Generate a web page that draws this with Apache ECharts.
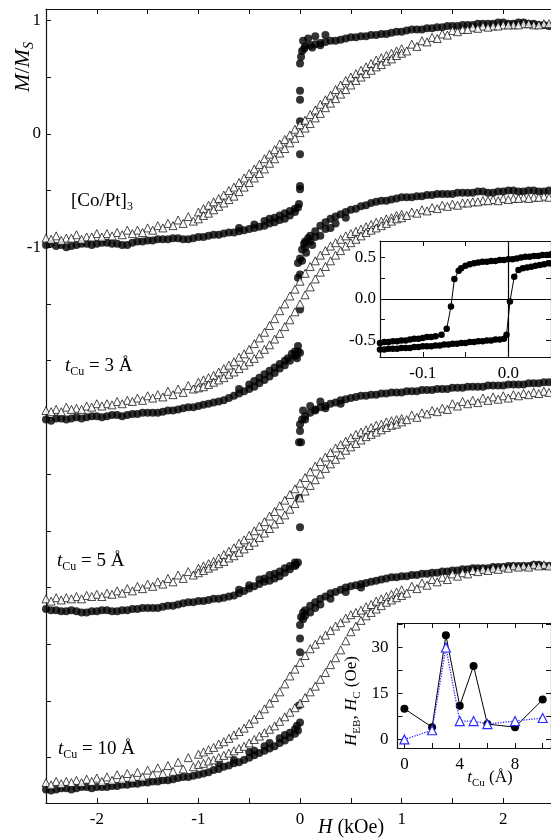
<!DOCTYPE html>
<html><head><meta charset="utf-8">
<script src="https://cdn.jsdelivr.net/npm/echarts@6/dist/echarts.min.js"></script>
<style>html,body{margin:0;padding:0;background:#fff}#c{width:551px;height:838px}</style>
</head><body><div id="c"></div>
<script>
// ---------- main panel field grids (kOe) ----------
const H_TRI_A = [-2.5,-2.4,-2.3,-2.2,-2.1,-2.0,-1.9,-1.8,-1.7,-1.6,-1.5,-1.4,-1.3,-1.2,-1.1,
  -1.0,-0.95,-0.9,-0.85,-0.8,-0.75,-0.7,-0.65,-0.6,-0.55,-0.5,-0.45,-0.4,-0.35,-0.3,-0.25,-0.2,-0.15,-0.1,-0.05,0,0.05,0.1,0.15,0.2,0.25,0.3,0.35,0.4,0.45,0.5,0.55,0.6,0.65,0.7,0.75,0.8,0.85,0.9,0.95,1.0,
  1.1,1.2,1.3,1.4,1.5,1.6,1.7,1.8,1.9,2.0,2.1,2.2,2.3,2.4,2.5];
const H_TRI_B = [-2.45,-2.35,-2.25,-2.15,-2.05,-1.95,-1.85,-1.75,-1.65,-1.55,-1.45,-1.35,-1.25,-1.15,-1.05,
  -1.0,-0.95,-0.9,-0.85,-0.8,-0.75,-0.7,-0.65,-0.6,-0.55,-0.5,-0.45,-0.4,-0.35,-0.3,-0.25,-0.2,-0.15,-0.1,-0.05,0,0.05,0.1,0.15,0.2,0.25,0.3,0.35,0.4,0.45,0.5,0.55,0.6,0.65,0.7,0.75,0.8,0.85,0.9,0.95,1.0,
  1.05,1.15,1.25,1.35,1.45,1.55,1.65,1.75,1.85,1.95,2.05,2.15,2.25,2.35,2.45];
const H_CIRC_NEG = [-2.5,-2.45,-2.4,-2.35,-2.3,-2.25,-2.2,-2.15,-2.1,-2.05,-2.0,-1.95,-1.9,-1.85,-1.8,-1.75,-1.7,-1.65,-1.6,-1.55,-1.5,-1.45,-1.4,-1.35,-1.3,-1.25,-1.2,-1.15,-1.1,-1.05,-1.0,-0.95,-0.9,-0.85,-0.8,-0.75,-0.7,-0.65,-0.6,-0.55,-0.5,-0.45,-0.4,-0.35,-0.3,-0.25,-0.2,-0.15,-0.1,-0.05];
const H_CIRC_POS = [0.05,0.1,0.15,0.2,0.25,0.3,0.35,0.4,0.45,0.5,0.55,0.6,0.65,0.7,0.75,0.8,0.85,0.9,0.95,1.0,1.05,1.1,1.15,1.2,1.25,1.3,1.35,1.4,1.45,1.5,1.55,1.6,1.65,1.7,1.75,1.8,1.85,1.9,1.95,2.0,2.05,2.1,2.15,2.2,2.25,2.3,2.35,2.4,2.45,2.5];

// ----- [Co/Pt]3 -----
const L1_TRI_A = [-0.92,-0.90,-0.92,-0.89,-0.91,-0.88,-0.88,-0.87,-0.85,-0.85,-0.83,-0.81,-0.79,-0.76,-0.73,
  -0.69,-0.66,-0.63,-0.60,-0.57,-0.54,-0.50,-0.47,-0.43,-0.39,-0.35,-0.31,-0.27,-0.22,-0.18,-0.14,-0.09,-0.05,-0.01,0.04,0.08,0.12,0.17,0.21,0.26,0.30,0.34,0.39,0.43,0.47,0.50,0.53,0.56,0.59,0.62,0.65,0.67,0.69,0.71,0.73,0.75,
  0.79,0.82,0.85,0.88,0.91,0.92,0.94,0.95,0.95,0.96,0.96,0.97,0.96,0.97,0.97];
const L1_TRI_B = [-0.93,-0.94,-0.92,-0.93,-0.91,-0.91,-0.90,-0.89,-0.88,-0.87,-0.85,-0.83,-0.81,-0.79,-0.77,
  -0.75,-0.72,-0.70,-0.67,-0.64,-0.61,-0.58,-0.55,-0.51,-0.47,-0.43,-0.39,-0.35,-0.31,-0.26,-0.22,-0.17,-0.13,-0.08,-0.04,0.01,0.05,0.09,0.14,0.18,0.23,0.27,0.31,0.35,0.39,0.43,0.47,0.50,0.53,0.56,0.59,0.61,0.64,0.66,0.69,0.71,
  0.73,0.77,0.81,0.84,0.87,0.90,0.92,0.93,0.94,0.95,0.96,0.96,0.97,0.96,0.97];
const L1_CIRC_NEG = [-0.98,-0.97,-0.99,-0.98,-1.00,-0.99,-0.98,-0.97,-0.97,-0.98,-0.97,-0.96,-0.96,-0.97,-0.97,-0.98,-0.98,-0.96,-0.95,-0.95,
  -0.94,-0.94,-0.93,-0.93,-0.93,-0.92,-0.92,-0.93,-0.93,-0.92,-0.91,-0.91,-0.90,-0.89,-0.89,-0.88,-0.87,-0.87,-0.86,-0.85,
  -0.84,-0.83,-0.82,-0.81,-0.79,-0.78,-0.76,-0.75,-0.72,-0.69];
const L1_CIRC_POS = [0.77,0.78,0.79,0.80,0.81,0.82,0.82,0.83,0.84,0.85,0.85,0.86,0.86,0.87,0.87,0.88,0.88,0.89,0.90,0.90,
  0.91,0.92,0.92,0.92,0.93,0.93,0.94,0.94,0.95,0.95,0.95,0.96,0.96,0.96,0.97,0.97,0.97,0.97,0.98,0.98,
  0.97,0.97,0.98,0.98,0.97,0.97,0.96,0.96,0.95,0.95];
const L1_CIRC_EXTRA = [[-0.6,-0.83],[-0.45,-0.80],[-0.35,-0.77],[-0.25,-0.74],[-0.3,-0.75],[-0.2,-0.72],[-0.15,-0.70],[-0.1,-0.68],[-0.05,-0.66],[-0.02,-0.65],[-0.01,-0.62],[0,-0.46],[0,-0.49],[0,-0.18],[0,0.11],[0,0.30],[0,0.38],[0.0,0.62],[0.01,0.68],[0.02,0.73],[0.03,0.82],[0.04,0.75],[0.08,0.84],[0.15,0.86],[0.25,0.87],[0.12,0.76],[0.2,0.78]];

// ----- t_Cu = 3 A -----
const L2_TRI_A = [-2.44,-2.43,-2.41,-2.42,-2.40,-2.38,-2.38,-2.36,-2.35,-2.33,-2.31,-2.30,-2.27,-2.25,-2.22,
  -2.19,-2.17,-2.15,-2.13,-2.10,-2.07,-2.04,-2.01,-1.97,-1.94,-1.90,-1.85,-1.80,-1.75,-1.69,-1.63,-1.56,-1.50,-1.43,-1.37,-1.30,-1.23,-1.17,-1.12,-1.07,-1.03,-0.99,-0.96,-0.93,-0.90,-0.88,-0.86,-0.84,-0.82,-0.80,-0.78,-0.77,-0.75,-0.74,-0.72,-0.71,
  -0.69,-0.67,-0.65,-0.63,-0.62,-0.61,-0.60,-0.59,-0.58,-0.57,-0.57,-0.56,-0.56,-0.55,-0.55];
const L2_TRI_B = [-2.45,-2.45,-2.43,-2.43,-2.41,-2.40,-2.39,-2.38,-2.36,-2.35,-2.33,-2.32,-2.30,-2.28,-2.25,
  -2.24,-2.23,-2.21,-2.19,-2.17,-2.15,-2.12,-2.10,-2.07,-2.04,-2.01,-1.98,-1.94,-1.90,-1.86,-1.81,-1.76,-1.70,-1.64,-1.57,-1.50,-1.42,-1.35,-1.28,-1.22,-1.17,-1.12,-1.07,-1.03,-0.99,-0.96,-0.93,-0.90,-0.87,-0.85,-0.83,-0.81,-0.79,-0.77,-0.75,-0.74,
  -0.72,-0.70,-0.68,-0.66,-0.64,-0.63,-0.61,-0.60,-0.59,-0.59,-0.58,-0.57,-0.57,-0.56,-0.56];
const L2_CIRC_NEG = [-2.52,-2.53,-2.51,-2.51,-2.52,-2.51,-2.50,-2.51,-2.50,-2.49,-2.49,-2.50,-2.49,-2.48,-2.48,-2.49,-2.48,-2.47,-2.47,-2.46,
  -2.46,-2.46,-2.46,-2.45,-2.44,-2.44,-2.43,-2.42,-2.41,-2.41,-2.40,-2.39,-2.38,-2.37,-2.36,-2.35,-2.33,-2.31,-2.29,-2.27,
  -2.25,-2.23,-2.20,-2.17,-2.14,-2.11,-2.07,-2.04,-2.00,-1.96];
const L2_CIRC_POS = [-0.95,-0.90,-0.86,-0.81,-0.78,-0.75,-0.73,-0.71,-0.69,-0.67,-0.66,-0.64,-0.63,-0.61,-0.60,-0.59,-0.59,-0.58,-0.57,-0.56,
  -0.56,-0.56,-0.55,-0.55,-0.54,-0.54,-0.53,-0.53,-0.53,-0.53,-0.52,-0.52,-0.52,-0.52,-0.51,-0.51,-0.52,-0.52,-0.51,-0.51,
  -0.50,-0.50,-0.51,-0.51,-0.50,-0.50,-0.51,-0.51,-0.50,-0.50];
const L2_CIRC_EXTRA = [[-0.6,-2.25],[-0.5,-2.21],[-0.45,-2.18],[-0.4,-2.15],[-0.3,-2.09],[-0.2,-2.03],[-0.12,-1.98],[-0.05,-1.92],[-0.03,-1.98],
  [-0.35,-2.12],[-0.25,-2.06],[-0.15,-2.00],[-0.08,-1.94],[-0.04,-1.95],[-0.02,-1.92],[-0.02,-1.87],[0,-1.93],[0,-1.55],[-0.02,-1.27],[0,-1.24],[-0.02,-1.14],[0,-1.10],[0.02,-1.02],[0.02,-1.12],[0.04,-0.97],[0.06,-1.05],[0.12,-0.98],[0.2,-0.90],[0.3,-0.83],[0.08,-0.92],
  [0.05,-1.0],[0.1,-0.95],[0.15,-0.91],[0.25,-0.84],[0.35,-0.79],[0.45,-0.74]];

// ----- t_Cu = 5 A -----
const L3_TRI_A = [-4.10,-4.09,-4.09,-4.08,-4.07,-4.06,-4.05,-4.03,-4.01,-3.99,-3.97,-3.95,-3.92,-3.89,-3.86,
  -3.83,-3.81,-3.79,-3.77,-3.74,-3.71,-3.68,-3.65,-3.61,-3.58,-3.54,-3.50,-3.46,-3.42,-3.37,-3.33,-3.28,-3.23,-3.18,-3.13,-3.08,-3.03,-2.98,-2.93,-2.89,-2.85,-2.81,-2.77,-2.74,-2.71,-2.68,-2.65,-2.63,-2.61,-2.59,-2.57,-2.56,-2.54,-2.53,-2.52,-2.51,
  -2.48,-2.46,-2.44,-2.42,-2.38,-2.36,-2.35,-2.33,-2.32,-2.31,-2.30,-2.29,-2.28,-2.27,-2.26];
const L3_TRI_B = [-4.12,-4.11,-4.10,-4.10,-4.08,-4.08,-4.06,-4.05,-4.03,-4.01,-3.99,-3.97,-3.95,-3.92,-3.89,
  -3.87,-3.85,-3.83,-3.81,-3.79,-3.77,-3.74,-3.72,-3.69,-3.66,-3.63,-3.60,-3.56,-3.52,-3.48,-3.44,-3.40,-3.36,-3.31,-3.26,-3.21,-3.15,-3.10,-3.05,-3.00,-2.95,-2.91,-2.87,-2.83,-2.79,-2.76,-2.73,-2.70,-2.67,-2.65,-2.63,-2.61,-2.59,-2.57,-2.56,-2.54,
  -2.52,-2.50,-2.47,-2.45,-2.43,-2.40,-2.38,-2.37,-2.35,-2.34,-2.33,-2.31,-2.30,-2.29,-2.28];
const L3_CIRC_NEG = [-4.19,-4.20,-4.20,-4.21,-4.21,-4.20,-4.21,-4.22,-4.22,-4.21,-4.21,-4.20,-4.20,-4.21,-4.21,-4.20,-4.20,-4.19,-4.19,-4.18,
  -4.18,-4.18,-4.18,-4.17,-4.16,-4.16,-4.15,-4.14,-4.13,-4.13,-4.12,-4.12,-4.11,-4.10,-4.10,-4.09,-4.08,-4.07,-4.05,-4.03,
  -4.01,-3.99,-3.97,-3.95,-3.94,-3.92,-3.90,-3.87,-3.84,-3.81];
const L3_CIRC_POS = [-2.49,-2.46,-2.44,-2.41,-2.40,-2.38,-2.37,-2.35,-2.34,-2.33,-2.32,-2.31,-2.31,-2.30,-2.30,-2.29,-2.29,-2.28,-2.28,-2.28,
  -2.27,-2.27,-2.27,-2.26,-2.26,-2.26,-2.25,-2.25,-2.25,-2.24,-2.24,-2.24,-2.23,-2.23,-2.23,-2.23,-2.22,-2.22,-2.22,-2.22,
  -2.21,-2.21,-2.21,-2.21,-2.20,-2.20,-2.20,-2.19,-2.19,-2.19];
const L3_CIRC_EXTRA = [[-0.6,-4.02],[-0.5,-3.98],[-0.35,-3.92],[-0.25,-3.88],[-0.15,-3.83],[-0.05,-3.78],
  [-0.4,-3.93],[-0.3,-3.89],[-0.2,-3.86],[-0.1,-3.81],[-0.04,-3.80],[-0.02,-3.78],[0,-3.47],[-0.01,-3.21],[-0.01,-2.72],[0.01,-2.72],[0,-2.62],[0,-2.56],[0.02,-2.52],[0.03,-2.44],[0.1,-2.40],[0.2,-2.36],[0.15,-2.43],
  [0.05,-2.52],[0.25,-2.42],[0.4,-2.38]];

// ----- t_Cu = 10 A -----
const L4_TRI_A = [-5.72,-5.71,-5.71,-5.70,-5.69,-5.68,-5.67,-5.65,-5.64,-5.63,-5.61,-5.59,-5.57,-5.54,-5.50,
  -5.47,-5.45,-5.43,-5.41,-5.38,-5.36,-5.33,-5.30,-5.27,-5.24,-5.20,-5.16,-5.12,-5.07,-5.02,-4.97,-4.92,-4.85,-4.78,-4.72,-4.66,-4.60,-4.54,-4.50,-4.46,-4.42,-4.38,-4.34,-4.31,-4.27,-4.24,-4.22,-4.20,-4.17,-4.15,-4.12,-4.10,-4.08,-4.06,-4.04,-4.02,
  -3.99,-3.96,-3.93,-3.91,-3.88,-3.87,-3.85,-3.84,-3.83,-3.82,-3.81,-3.81,-3.80,-3.80,-3.80];
const L4_TRI_B = [-5.74,-5.73,-5.72,-5.72,-5.71,-5.71,-5.70,-5.69,-5.68,-5.67,-5.65,-5.64,-5.62,-5.60,-5.58,
  -5.56,-5.55,-5.53,-5.52,-5.50,-5.48,-5.46,-5.44,-5.42,-5.40,-5.37,-5.34,-5.31,-5.28,-5.25,-5.22,-5.18,-5.14,-5.10,-5.06,-5.02,-4.97,-4.92,-4.87,-4.81,-4.75,-4.68,-4.62,-4.55,-4.47,-4.39,-4.34,-4.29,-4.25,-4.22,-4.19,-4.16,-4.13,-4.11,-4.09,-4.07,
  -4.05,-4.01,-3.98,-3.95,-3.93,-3.90,-3.88,-3.86,-3.85,-3.84,-3.83,-3.82,-3.82,-3.81,-3.81];
const L4_CIRC_NEG = [-5.78,-5.79,-5.78,-5.77,-5.77,-5.78,-5.77,-5.76,-5.76,-5.77,-5.76,-5.76,-5.76,-5.75,-5.75,-5.74,-5.74,-5.73,-5.73,-5.72,
  -5.72,-5.71,-5.71,-5.70,-5.70,-5.69,-5.68,-5.67,-5.67,-5.66,-5.65,-5.64,-5.63,-5.61,-5.60,-5.58,-5.57,-5.55,-5.54,-5.52,
  -5.50,-5.48,-5.46,-5.44,-5.42,-5.40,-5.37,-5.35,-5.32,-5.29];
const L4_CIRC_POS = [-4.20,-4.16,-4.13,-4.10,-4.08,-4.05,-4.04,-4.02,-4.00,-3.99,-3.98,-3.97,-3.96,-3.95,-3.94,-3.93,-3.92,-3.91,-3.91,-3.90,
  -3.90,-3.89,-3.89,-3.88,-3.88,-3.87,-3.87,-3.86,-3.86,-3.85,-3.85,-3.84,-3.84,-3.83,-3.83,-3.83,-3.83,-3.82,-3.82,-3.82,
  -3.81,-3.81,-3.81,-3.81,-3.81,-3.80,-3.80,-3.81,-3.81,-3.80];
const L4_CIRC_EXTRA = [[-0.8,-5.55],[-0.65,-5.52],[-0.45,-5.44],[-0.3,-5.37],[-0.15,-5.30],[-0.05,-5.25],
  [-0.5,-5.45],[-0.35,-5.40],[-0.2,-5.33],[-0.1,-5.28],[-0.03,-5.22],[-0.02,-5.26],[0,-5.19],[-0.01,-5.04],[0,-4.57],[0,-4.45],[0,-4.33],[0.01,-4.26],[0.03,-4.22],[0.03,-4.28],[0.1,-4.22],[0.2,-4.15],
  [0.05,-4.25],[0.15,-4.18],[0.3,-4.10],[0.45,-4.04],[0.6,-4.0]];

const X_TICKS = [-2.5,-2,-1.5,-1,-0.5,0,0.5,1,1.5,2];
const X_LABELS = [-2,-1,0,1,2];
const Y_TICKS = [1,0.5,0,-0.5,-1,-1.5,-2,-2.5,-3,-3.5,-4,-4.5,-5,-5.5];
const Y_LABELS = [1,0,-1];

// ---------- inset 1: low-field loop ----------
const IN1_DESC = [[0.05,0.54],[0.045,0.53],[0.04,0.53],[0.035,0.52],[0.03,0.52],[0.025,0.51],[0.02,0.51],[0.015,0.50],[0.01,0.49],[0.005,0.48],[0.0,0.48],[-0.005,0.47],[-0.01,0.47],[-0.015,0.46],[-0.02,0.46],[-0.025,0.45],[-0.03,0.45],[-0.035,0.44],[-0.04,0.43],[-0.045,0.42],[-0.05,0.40],[-0.055,0.37],[-0.058,0.34],[-0.063,0.24],[-0.067,-0.09],[-0.072,-0.36],[-0.078,-0.43],[-0.085,-0.45],[-0.09,-0.46],[-0.095,-0.46],[-0.1,-0.47],[-0.105,-0.48],[-0.11,-0.48],[-0.115,-0.49],[-0.12,-0.50],[-0.125,-0.50],[-0.13,-0.51],[-0.135,-0.51],[-0.14,-0.52],[-0.145,-0.52],[-0.15,-0.53]];
const IN1_ASC = [[-0.15,-0.61],[-0.145,-0.61],[-0.14,-0.60],[-0.135,-0.60],[-0.13,-0.60],[-0.125,-0.59],[-0.12,-0.59],[-0.115,-0.59],[-0.11,-0.58],[-0.105,-0.58],[-0.1,-0.57],[-0.095,-0.57],[-0.09,-0.57],[-0.085,-0.56],[-0.08,-0.56],[-0.075,-0.55],[-0.07,-0.55],[-0.065,-0.54],[-0.06,-0.54],[-0.055,-0.53],[-0.05,-0.53],[-0.045,-0.52],[-0.04,-0.52],[-0.035,-0.51],[-0.03,-0.51],[-0.025,-0.50],[-0.02,-0.50],[-0.015,-0.49],[-0.01,-0.49],[-0.005,-0.48],[-0.002,-0.43],[0.002,-0.03],[0.007,0.27],[0.012,0.35],[0.017,0.37],[0.022,0.38],[0.027,0.39],[0.032,0.40],[0.037,0.41],[0.042,0.42],[0.047,0.43],[0.05,0.43]];
const IN1_X_TICKS = [-0.15,-0.1,-0.05,0,0.05];
const IN1_X_LABELS = [-0.1,0];
const IN1_Y_TICKS = [-0.5,-0.25,0,0.25,0.5];
const IN1_Y_LABELS = [-0.5,0,0.5];

// ---------- inset 2: H_EB, H_C vs t_Cu ----------
const T_CU = [0,2,3,4,5,6,8,10];
const H_EB = [10,4,34,11,24,5,4,13];
const H_C  = [0,3,30,6,6,5,6,7];
const IN2_X_TICKS = [0,2,4,6,8,10];
const IN2_X_LABELS = [0,4,8];
const IN2_Y_TICKS = [0,7.5,15,22.5,30,37.5];
const IN2_Y_LABELS = [0,15,30];

// ---------- build ----------
const FONT = "'Liberation Serif','Times New Roman',serif";
const INK = '#000';
const pairs = (hs, ms) => hs.map((h, i) => [h, ms[i]]);
const axLine = {lineStyle: {color: '#111', width: 1.2}};
function circ(neg, pos, extra) {
  return {type: 'scatter', xAxisIndex: 0, yAxisIndex: 0,
    data: pairs(H_CIRC_NEG, neg).concat(extra, pairs(H_CIRC_POS, pos)),
    symbol: 'circle', symbolSize: 8, itemStyle: {color: INK}, clip: false, z: 2, silent: true};
}
function tri(hs, m) {
  return {type: 'scatter', xAxisIndex: 0, yAxisIndex: 0, data: pairs(hs, m), symbol: 'triangle', symbolSize: 8,
    itemStyle: {color: '#fff', borderColor: INK, borderWidth: 0.9}, clip: false, z: 3, silent: true};
}
function xAx(grid, min, max, pos, ticks, labels, fmt, z) {
  return {gridIndex: grid, type: 'value', min, max, position: pos, z: z || 1,
    axisLine: Object.assign({onZero: false, show: true}, axLine),
    axisTick: {show: true, inside: true, length: 5, customValues: ticks, lineStyle: {color: '#111', width: 1}},
    axisLabel: labels ? {show: true, customValues: labels, formatter: fmt, fontSize: 17, fontFamily: FONT, color: INK, margin: 8} : {show: false},
    splitLine: {show: false}};
}
function yAx(grid, min, max, pos, ticks, labels, fmt, z, margin) {
  return {gridIndex: grid, type: 'value', min, max, position: pos, z: z || 1,
    axisLine: Object.assign({onZero: false, show: true}, axLine),
    axisTick: {show: true, inside: true, length: 5, customValues: ticks, lineStyle: {color: '#111', width: 1}},
    axisLabel: labels ? {show: true, customValues: labels, formatter: fmt, fontSize: 17, fontFamily: FONT, color: INK, margin: margin || 5} : {show: false},
    splitLine: {show: false}};
}
const intFmt = (v) => String(Math.round(v));
const oneDec = (v) => (Math.abs(v) < 1e-9 ? 0 : v).toFixed(1);
function label(x, y, text, rich) {
  return {type: 'text', x, y, z: 20, style: {text, textAlign: 'left', textVerticalAlign: 'middle', fill: INK, rich}};
}
const richMain = {
  i: {fontFamily: FONT, fontStyle: 'italic', fontSize: 19, fill: INK},
  n: {fontFamily: FONT, fontSize: 19, fill: INK},
  s: {fontFamily: FONT, fontSize: 12, fill: INK, padding: [12, 0, 0, 0]}
};
const richInset = {
  i: {fontFamily: FONT, fontStyle: 'italic', fontSize: 17, fill: INK},
  n: {fontFamily: FONT, fontSize: 17, fill: INK},
  s: {fontFamily: FONT, fontSize: 11, fill: INK, padding: [10, 0, 0, 0]}
};

const option = {
  animation: false,
  backgroundColor: '#fff',
  grid: [
    {left: 46, top: 9, right: 0, bottom: 35},
    {left: 380, top: 241, width: 171, height: 116, show: true, backgroundColor: '#fff', borderWidth: 0, z: 5},
    {left: 397.5, top: 623, width: 153.5, height: 125, show: true, backgroundColor: '#fff', borderWidth: 0, z: 5}
  ],
  xAxis: [
    xAx(0, -2.5, 2.47, 'bottom', X_TICKS, X_LABELS, intFmt),
    xAx(0, -2.5, 2.47, 'top', X_TICKS, null),
    xAx(1, -0.15, 0.05, 'bottom', IN1_X_TICKS, IN1_X_LABELS, oneDec, 6),
    xAx(1, -0.15, 0.05, 'top', IN1_X_TICKS, null, null, 6),
    xAx(2, -0.5, 10.6, 'bottom', IN2_X_TICKS, IN2_X_LABELS, intFmt, 6),
    xAx(2, -0.5, 10.6, 'top', IN2_X_TICKS, null, null, 6)
  ],
  yAxis: [
    yAx(0, -5.9, 1.1, 'left', Y_TICKS, Y_LABELS, intFmt, 1, 5),
    yAx(1, -0.7, 0.7, 'left', IN1_Y_TICKS, IN1_Y_LABELS, oneDec, 6, 4),
    yAx(1, -0.7, 0.7, 'right', IN1_Y_TICKS, null, null, 6),
    yAx(2, -2.8, 38, 'left', IN2_Y_TICKS, IN2_Y_LABELS, intFmt, 6, 9),
    yAx(2, -2.8, 38, 'right', IN2_Y_TICKS, null, null, 6)
  ],
  series: [
    circ(L1_CIRC_NEG, L1_CIRC_POS, L1_CIRC_EXTRA), tri(H_TRI_A, L1_TRI_A), tri(H_TRI_B, L1_TRI_B),
    circ(L2_CIRC_NEG, L2_CIRC_POS, L2_CIRC_EXTRA), tri(H_TRI_A, L2_TRI_A), tri(H_TRI_B, L2_TRI_B),
    circ(L3_CIRC_NEG, L3_CIRC_POS, L3_CIRC_EXTRA), tri(H_TRI_A, L3_TRI_A), tri(H_TRI_B, L3_TRI_B),
    circ(L4_CIRC_NEG, L4_CIRC_POS, L4_CIRC_EXTRA), tri(H_TRI_A, L4_TRI_A), tri(H_TRI_B, L4_TRI_B),
    {type: 'line', xAxisIndex: 2, yAxisIndex: 1, data: IN1_DESC, symbol: 'circle', symbolSize: 6.5, showSymbol: true,
      lineStyle: {color: INK, width: 1}, itemStyle: {color: INK}, z: 8, silent: true,
      markLine: {symbol: 'none', silent: true, label: {show: false}, lineStyle: {color: INK, type: 'solid', width: 1.2},
        data: [{xAxis: 0}, {yAxis: 0}]}},
    {type: 'line', xAxisIndex: 2, yAxisIndex: 1, data: IN1_ASC, symbol: 'circle', symbolSize: 6.5, showSymbol: true,
      lineStyle: {color: INK, width: 1}, itemStyle: {color: INK}, z: 8, silent: true},
    {type: 'line', xAxisIndex: 4, yAxisIndex: 3, data: pairs(T_CU, H_EB), symbol: 'circle', symbolSize: 8,
      lineStyle: {color: INK, width: 1}, itemStyle: {color: INK}, z: 8, silent: true},
    {type: 'line', xAxisIndex: 4, yAxisIndex: 3, data: pairs(T_CU, H_C), symbol: 'triangle', symbolSize: 9,
      lineStyle: {color: '#2b2bff', width: 1.3, type: 'dotted'}, itemStyle: {color: '#fff', borderColor: '#2b2bff', borderWidth: 1.2}, z: 9, silent: true}
  ],
  graphic: [
    {type: 'text', x: 23, y: 67, rotation: Math.PI / 2, z: 20,
      style: {text: '{i|M}{n|/}{i|M}{s|S}', textAlign: 'center', textVerticalAlign: 'middle', fill: INK,
        rich: {i: {fontFamily: FONT, fontStyle: 'italic', fontSize: 22, fill: INK},
               n: {fontFamily: FONT, fontSize: 22, fill: INK},
               s: {fontFamily: FONT, fontStyle: 'italic', fontSize: 14, fill: INK, padding: [12, 0, 0, 0]}}}},
    {type: 'text', x: 351, y: 828, z: 20,
      style: {text: '{i|H}{n| (kOe)}', textAlign: 'center', textVerticalAlign: 'middle', fill: INK,
        rich: {i: {fontFamily: FONT, fontStyle: 'italic', fontSize: 20, fill: INK},
               n: {fontFamily: FONT, fontSize: 20, fill: INK}}}},
    label(71, 201, '{n|[Co/Pt]}{s|3}', richMain),
    label(65, 366, '{i|t}{s|Cu}{n| = 3 Å}', richMain),
    label(57, 561, '{i|t}{s|Cu}{n| = 5 Å}', richMain),
    label(58, 749, '{i|t}{s|Cu}{n| = 10 Å}', richMain),
    {type: 'text', x: 352, y: 701, rotation: Math.PI / 2, z: 20,
      style: {text: '{i|H}{s|EB}{n|, }{i|H}{s|C}{n| (Oe)}', textAlign: 'center', textVerticalAlign: 'middle', fill: INK, rich: richInset}},
    {type: 'text', x: 490, y: 778, z: 20,
      style: {text: '{i|t}{s|Cu}{n| (Å)}', textAlign: 'center', textVerticalAlign: 'middle', fill: INK, rich: richInset}}
  ]
};
const chart = echarts.init(document.getElementById('c'), null, {renderer: 'canvas'});
chart.setOption(option);
</script>
</body></html>
